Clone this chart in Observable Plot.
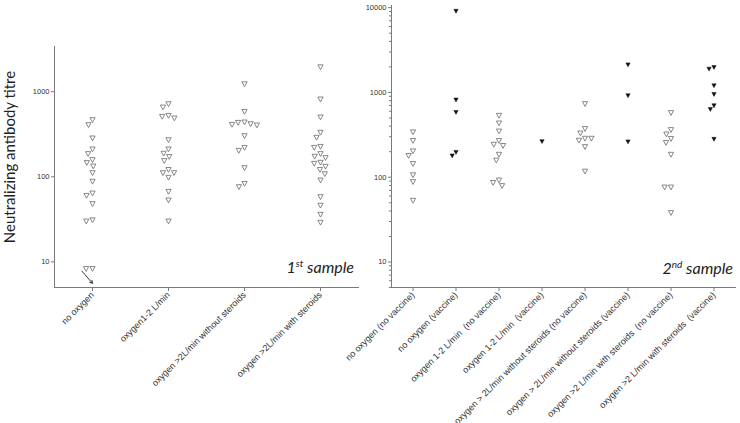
<!DOCTYPE html>
<html><head><meta charset="utf-8">
<script src="https://cdn.jsdelivr.net/npm/d3@7"></script>
<script src="https://cdn.jsdelivr.net/npm/@observablehq/plot@0.6"></script>
<style>
body{margin:0;background:#fff;}
#wrap{display:flex;width:740px;height:423px;}
#wrap > svg{flex:none;overflow:visible;background:transparent;}
</style></head><body><div id="wrap"></div>
<script>
// ---- 1st sample ----
const firstCategories = ["no oxygen", "oxygen1-2 L/min", "oxygen >2L/min without steroids", "oxygen >2L/min with steroids"];
const firstNoOxygen = [466, 407, 284, 211, 186, 158, 146, 133, 111, 88, 64, 60, 48, 31, 30, 8.3, 8.3];
const firstOxygen12 = [717, 656, 523, 509, 488, 271, 211, 188, 172, 154, 121, 111, 111, 98, 67, 53, 30];
const firstOxygenNoSteroids = [1231, 583, 438, 433, 418, 410, 404, 302, 220, 203, 127, 83, 76];
const firstOxygenSteroids = [1948, 815, 501, 331, 289, 226, 220, 186, 173, 167, 147, 143, 132, 121, 108, 91, 58, 46, 36, 29];
const firstSeries = [firstNoOxygen, firstOxygen12, firstOxygenNoSteroids, firstOxygenSteroids];

// ---- 2nd sample ----
const secondCategories = [
  "no oxygen (no vaccine)", "no oxygen (vaccine)",
  "oxygen 1-2 L/min  (no vaccine)", "oxygen 1-2 L/min  (vaccine)",
  "oxygen > 2L/min without steroids (no vaccine)", "oxygen > 2L/min without steroids (vaccine)",
  "oxygen >2 L/min with steroids  (no vaccine)", "oxygen >2 L/min with steroids  (vaccine)"
];
const secondVaccinated = [false, true, false, true, false, true, false, true];
const secondNoOxygenNoVaccine = [340, 269, 203, 179, 144, 106, 88, 53];
const secondNoOxygenVaccine = [9100, 817, 583, 197, 179];
const secondOxygen12NoVaccine = [533, 433, 348, 269, 243, 235, 185, 158, 92, 86, 79];
const secondOxygen12Vaccine = [264];
const secondNoSteroidsNoVaccine = [732, 372, 330, 286, 286, 271, 228, 117];
const secondNoSteroidsVaccine = [2123, 917, 262];
const secondSteroidsNoVaccine = [574, 362, 321, 284, 255, 185, 76, 76, 38];
const secondSteroidsVaccine = [1974, 1890, 1202, 950, 699, 632, 281];
const secondSeries = [secondNoOxygenNoVaccine, secondNoOxygenVaccine, secondOxygen12NoVaccine, secondOxygen12Vaccine,
  secondNoSteroidsNoVaccine, secondNoSteroidsVaccine, secondSteroidsNoVaccine, secondSteroidsVaccine];

// axis ticks and annotations
const firstTicks = [10, 100, 1000];
const secondTicks = [10, 100, 1000, 10000];
const firstDomain = [5, 3400];
const secondDomain = [5, 10600];
const belowDetection = [{cat: "no oxygen", x1: -0.28, x2: 0, y1: 7.8, y2: 5.6}];

const firstRows = firstCategories.flatMap((c, i) => firstSeries[i].map(v => ({cat: c, titre: v})));
const secondRows = secondCategories.flatMap((c, i) => secondSeries[i].map(v => ({cat: c, titre: v, vaccine: secondVaccinated[i]})));

const downTriangle = {
  draw(ctx, size) {
    const s = Math.sqrt(size / Math.PI);
    const w = s * 0.82, h1 = s * 0.7, h2 = s * 0.8;
    ctx.moveTo(-w, -h1); ctx.lineTo(w, -h1); ctx.lineTo(0, h2); ctx.closePath();
  }
};

const tickFont = "Liberation Sans";
const axisColor = "#7a7a7a";

function panel({categories, rows, domain, ticks, minor, width, marginLeft, marginTop, extra}) {
  const marks = [
    Plot.frame({anchor: "bottom", stroke: axisColor}),
    Plot.frame({anchor: "left", stroke: axisColor, facetAnchor: "left"}),
    Plot.axisY({ticks, tickFormat: d3.format("d"), tickSize: 3, tickPadding: 2, label: null, stroke: axisColor, fontSize: 7.5, fontFamily: tickFont, fill: "#333"}),
    Plot.axisFx({anchor: "bottom", tickRotate: -45, tickSize: 4, tickPadding: 2, label: null, stroke: axisColor, fontSize: 9, fontFamily: tickFont, fill: "#333"}),
    Plot.dot(rows.filter(d => !d.vaccine), Plot.dodgeX({anchor: "middle", padding: 0}, {fx: "cat", y: "titre", r: 3.2, symbol: downTriangle, stroke: "#6a6a6a", strokeWidth: 0.8, fill: "white"})),
    Plot.dot(rows.filter(d => d.vaccine), Plot.dodgeX({anchor: "middle", padding: 0}, {fx: "cat", y: "titre", r: 2.6, symbol: downTriangle, fill: "#111", stroke: "#111", strokeWidth: 0.5}))
  ];
  if (minor) {
    const minorTicks = d3.scaleLog().domain(domain).ticks().filter(v => !ticks.includes(v) && v >= domain[0]);
    marks.splice(3, 0, Plot.axisY({ticks: minorTicks, tickFormat: () => "", tickSize: 2, label: null, stroke: axisColor}));
  }
  if (extra) marks.push(...extra);
  return Plot.plot({
    width, height: 423,
    marginLeft, marginRight: 2, marginTop, marginBottom: 136,
    style: {fontFamily: tickFont, color: "#333", background: "transparent", overflow: "visible"},
    fx: {domain: categories, padding: 0, label: null},
    x: {domain: [-1, 1], axis: null},
    y: {type: "log", domain, axis: null},
    marks
  });
}

const left = panel({
  categories: firstCategories, rows: firstRows, domain: firstDomain, ticks: firstTicks, minor: false,
  width: 360, marginLeft: 54, marginTop: 46,
  extra: [Plot.arrow(belowDetection, {fx: "cat", x1: "x1", x2: "x2", y1: "y1", y2: "y2", stroke: "#222", strokeWidth: 0.9, headLength: 5})]
});
const right = panel({
  categories: secondCategories, rows: secondRows, domain: secondDomain, ticks: secondTicks, minor: true,
  width: 380, marginLeft: 27, marginTop: 5
});

function sampleLabel(svg, x, y, num, sup) {
  const t = d3.select(svg).append("text")
    .attr("x", x).attr("y", y).attr("text-anchor", "end")
    .attr("font-family", "Lato, 'Open Sans', sans-serif").attr("font-style", "italic")
    .attr("font-size", 16).attr("fill", "#222");
  t.append("tspan").text(num);
  t.append("tspan").attr("font-size", 10).attr("dy", -6).text(sup);
  t.append("tspan").attr("dy", 6).text(" sample");
}
d3.select(left).append("text")
  .attr("transform", "translate(15,157) rotate(-90)")
  .attr("text-anchor", "middle")
  .attr("font-family", "Lato, 'Open Sans', sans-serif")
  .attr("font-size", 15).attr("fill", "#222")
  .text("Neutralizing antibody titre");
sampleLabel(left, 354, 273, "1", "st");
sampleLabel(right, 373, 274, "2", "nd");

document.getElementById("wrap").append(left, right);
</script></body></html>
